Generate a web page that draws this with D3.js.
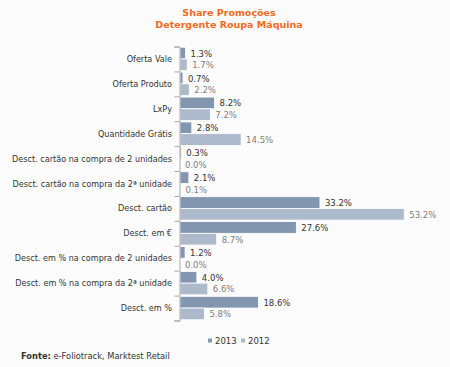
<!DOCTYPE html>
<html><head><meta charset="utf-8">
<script src="https://cdn.jsdelivr.net/npm/d3@7"></script>
<style>
html,body{margin:0;padding:0;background:#fcfcfc;}
svg{display:block;font-family:"DejaVu Sans",Verdana,sans-serif;}
</style></head>
<body>
<svg id="c" width="450" height="367"></svg>
<script>
const categories = ["Oferta Vale","Oferta Produto","LxPy","Quantidade Grátis","Desct. cartão na compra de 2 unidades","Desct. cartão na compra da 2ª unidade","Desct. cartão","Desct. em €","Desct. em % na compra de 2 unidades","Desct. em % na compra da 2ª unidade","Desct. em %"];
const series = ["2013","2012"];
const values2013 = [1.3,0.7,8.2,2.8,0.3,2.1,33.2,27.6,1.2,4.0,18.6];
const values2012 = [1.7,2.2,7.2,14.5,0.0,0.1,53.2,8.7,0.0,6.6,5.8];
const titleLines = ["Share Promoções","Detergente Roupa Máquina"];

const colors = {"2013":"#8296b0","2012":"#adbacc"};
const labelColors = {"2013":"#333333","2012":"#808080"};

const svg = d3.select("#c");
const x0 = 180;
const x = d3.scaleLinear().domain([0,60]).range([x0, x0 + 60*4.215]);
const y = d3.scaleBand().domain(categories).range([46.5, 320.5]).paddingInner(0.06).paddingOuter(0.03);
const ys = d3.scaleBand().domain(series).range([0, y.bandwidth()]);

// title
svg.append("g").selectAll("text").data(titleLines).join("text")
  .attr("x", 229).attr("y", (d,i)=>15.5 + i*12)
  .attr("text-anchor","middle").attr("font-weight","bold").attr("font-size","9.5px")
  .attr("fill","#f26a21").text(d=>d);

const data = categories.map((c,i)=>({c, v:{"2013":values2013[i],"2012":values2012[i]}}));

const g = svg.append("g");
data.forEach(d=>{
  series.forEach(s=>{
    const v = d.v[s];
    const yy = y(d.c) + ys(s);
    g.append("rect").attr("x", x(0)).attr("y", yy)
      .attr("width", Math.max(0, x(v)-x(0))).attr("height", ys.bandwidth())
      .attr("fill", colors[s]).attr("stroke","#ffffff").attr("stroke-width",0.8);
    g.append("text").attr("x", x(v)+5).attr("y", yy + ys.bandwidth()/2 + 3.5)
      .attr("font-size","8.5px").attr("fill", labelColors[s]).text(v.toFixed(1)+"%");
  });
});

// axis
const axis = d3.axisLeft(d3.scaleLinear().domain([0,categories.length]).range([46.5,320.5]))
  .ticks(categories.length).tickFormat("").tickSize(5).tickSizeOuter(5);
const ag = svg.append("g").attr("transform",`translate(${x0-0.5},0)`).call(axis);
ag.selectAll("path,line").attr("stroke","#a8a8a8");

// category labels
svg.append("g").selectAll("text").data(categories).join("text")
  .attr("x", 172).attr("y", d=>y(d)+y.bandwidth()/2+3)
  .attr("text-anchor","end").attr("font-size","8.1px").attr("fill","#333").text(d=>d);

// legend
const lg = svg.append("g");
const legX = [208, 241];
series.forEach((s,i)=>{
  lg.append("rect").attr("x", legX[i]).attr("y", 338.5).attr("width",4).attr("height",4).attr("fill",colors[s]);
  lg.append("text").attr("x", legX[i]+7).attr("y", 343.5).attr("font-size","8.5px").attr("fill","#333").text(s);
});

// source
const src = svg.append("text").attr("x", 21).attr("y", 358.5).attr("font-size","8.3px").attr("fill","#333");
src.append("tspan").attr("font-weight","bold").text("Fonte:");
src.append("tspan").text(" e-Foliotrack, Marktest Retail");
</script>
</body></html>
